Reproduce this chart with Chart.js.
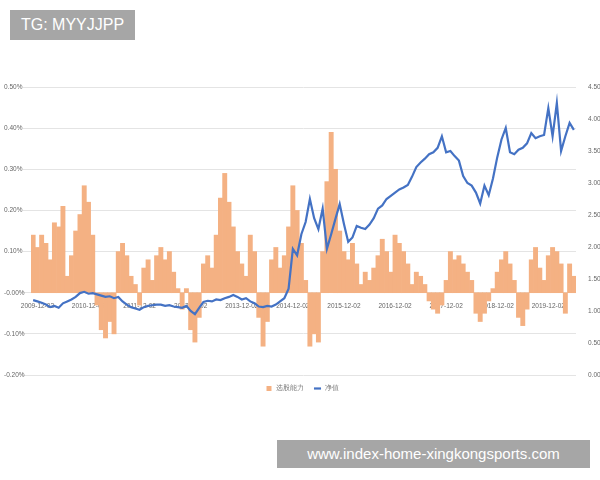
<!DOCTYPE html>
<html><head><meta charset="utf-8">
<script src="https://cdn.jsdelivr.net/npm/chart.js@4"></script>
<style>
body{margin:0;background:#fff;font-family:"Noto Sans","Noto Sans CJK SC",sans-serif}
#wrap{position:relative;width:600px;height:480px}
.tag{position:absolute;background:#a6a6a6;color:#fff;font-family:"Liberation Sans",Arial,sans-serif}
</style></head>
<body><div id="wrap"><canvas id="c" width="600" height="480"></canvas>
<div class="tag" style="left:10px;top:10px;width:125px;height:30px;line-height:30px;font-size:16px;text-align:center">TG: MYYJJPP</div>
<div class="tag" style="left:277px;top:440px;width:313px;height:28px;line-height:28px;font-size:15px;text-align:center">www.index-home-xingkongsports.com</div>
</div>
<script>
const startYear = 2009, startMonth = 11, monthCount = 128;
const seriesNames = ['选股能力', '净值'];
const stockSkill = [
0.14,0.11,0.14,0.12,0.08,0.17,0.16,0.21,
0.04,
0.09,0.15,0.19,0.26,0.22,0.14,
-0.03,-0.09,-0.11,-0.07,-0.10,
0.10,0.12,0.09,0.04,
0.02,-0.03,0.06,0.08,0.03,
0.09,0.11,0.08,0.10,0.05,0.01,
-0.04,0.01,-0.09,-0.12,-0.06,
0.07,0.09,0.06,
0.14,0.23,0.29,0.22,0.16,
0.10,0.07,0.04,
0.14,0.10,
-0.06,-0.13,-0.07,
0.08,0.11,0.06,0.09,
0.16,0.26,0.20,0.12,0.03,
-0.13,-0.10,-0.12,
0.10,0.27,0.39,0.30,
0.15,0.10,0.08,0.12,0.07,
0.02,0.05,0.03,
0.06,0.09,0.13,0.10,0.05,0.14,0.12,
0.10,0.07,
0.02,0.05,0.04,0.02,
-0.02,-0.04,-0.05,-0.03,
0.03,0.10,0.08,0.09,0.07,0.05,0.03,
-0.05,-0.07,-0.05,-0.02,
0.01,0.05,0.08,0.10,0.07,0.03,
-0.06,-0.08,-0.04,
0.08,0.11,0.06,0.03,
0.09,0.11,0.10,0.07,
-0.05,0.07,0.04];
const netValue = [
1.17,1.15,1.13,1.10,1.06,1.08,1.05,1.12,
1.15,1.18,1.22,1.28,1.30,1.27,1.28,
1.26,1.24,1.22,1.23,1.20,
1.22,1.15,1.10,1.06,1.04,
1.02,1.06,1.08,1.09,1.10,
1.10,1.08,1.09,1.07,1.06,
1.05,1.08,1.00,0.95,1.05,
1.14,1.16,1.15,1.18,1.17,
1.20,1.22,1.25,1.22,1.18,
1.20,1.15,1.12,1.07,1.06,
1.08,1.07,1.10,1.15,1.20,
1.35,1.97,1.87,2.20,2.39,
2.75,2.45,2.28,2.60,1.97,
2.20,2.44,2.67,2.36,2.08,
2.15,2.33,2.30,2.28,2.35,
2.45,2.60,2.65,2.75,2.80,
2.85,2.90,2.93,2.97,3.10,
3.25,3.32,3.38,3.45,3.48,
3.55,3.73,3.48,3.50,3.42,
3.35,3.11,3.00,2.96,2.85,
2.68,2.96,2.81,3.07,3.40,
3.68,3.86,3.48,3.45,3.52,
3.55,3.62,3.78,3.70,3.73,
3.75,4.17,3.73,4.25,3.50,
3.73,3.94,3.83];
const labels = [];
for (let i = 0; i < monthCount; i++) {
  const m = (startMonth - 1 + i) % 12 + 1, y = startYear + Math.floor((startMonth - 1 + i) / 12);
  labels.push(y + '-' + String(m).padStart(2, '0') + '-02');
}
const tickFont = {size: 6.5, family: '"Liberation Sans", Arial, sans-serif'};
new Chart(document.getElementById('c'), {
  data: {labels, datasets: [
    {type: 'line', label: seriesNames[1], data: netValue, yAxisID: 'y1', borderColor: '#4472c4', borderWidth: 2.2, pointRadius: 0, tension: 0, pointStyle: 'line', order: 0},
    {type: 'bar', label: seriesNames[0], data: stockSkill, yAxisID: 'y', backgroundColor: '#f4b183', barPercentage: 1, categoryPercentage: 1, pointStyle: 'rect', order: 1}
  ]},
  options: {
    responsive: false, animation: false,
    layout: {padding: {top: 87, bottom: 78, left: 4, right: 0}},
    plugins: {legend: {position: 'bottom', reverse: true, labels: {usePointStyle: true, boxWidth: 18, boxHeight: 5, font: {size: 7}, color: '#777', padding: 10}}, tooltip: {enabled: false}},
    scales: {
      x: {position: {y: 0}, grid: {display: false}, border: {display: false},
          ticks: {autoSkip: false, maxRotation: 0, font: tickFont, color: '#666', padding: 2,
                  callback: function(v, i) { const l = labels[i]; return l.slice(5, 7) === '12' ? l : ''; }}},
      y: {position: 'left', min: -0.2, max: 0.5, grid: {color: '#e4e4e4'}, border: {display: false},
          afterFit: s => { s.width = 27; },
          ticks: {stepSize: 0.1, font: tickFont, color: '#666', padding: 5, crossAlign: 'far', callback: v => v.toFixed(2) + '%'}},
      y1: {position: 'right', min: 0, max: 4.5, grid: {display: false}, border: {display: false},
          afterFit: s => { s.width = 24; },
          ticks: {stepSize: 0.5, font: tickFont, color: '#666', padding: 4, callback: v => v.toFixed(2)}}
    }
  }
});
</script></body></html>
